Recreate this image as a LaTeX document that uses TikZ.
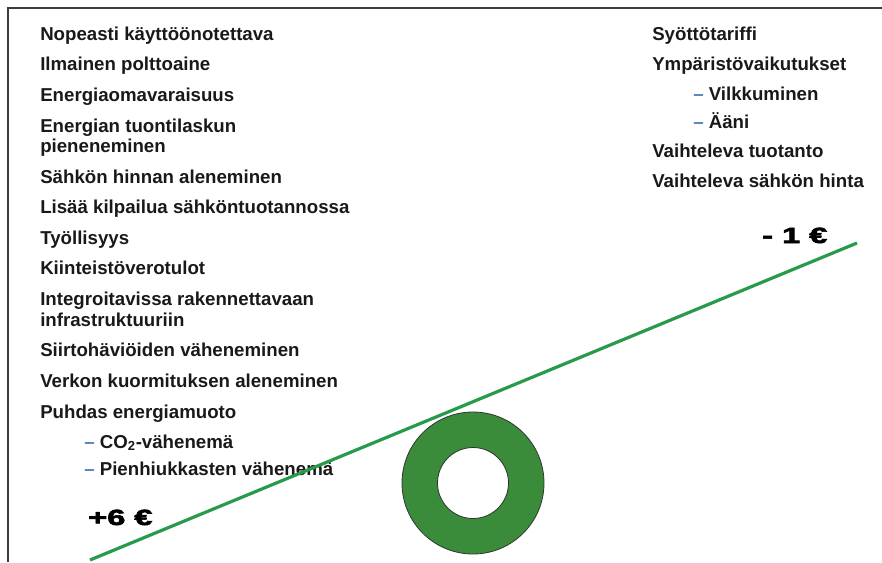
\documentclass[tikz,border=0pt]{standalone}
\usepackage{fontspec}
\setmainfont{Liberation Sans}
\newfontfamily\heavyfont{Liberation Sans}[BoldFeatures={FakeBold=2.5}]
\definecolor{txt}{RGB}{25,25,25}
\definecolor{bul}{RGB}{80,130,180}
\definecolor{lineg}{RGB}{40,155,75}
\definecolor{donutc}{RGB}{58,140,58}
\definecolor{framec}{RGB}{60,60,60}
\begin{document}
\begin{tikzpicture}[x=0.75pt,y=-0.75pt,
  item/.style={anchor=base west,inner sep=0pt,font=\fontsize{14}{14}\selectfont\bfseries,text=txt},
  money/.style={anchor=base west,inner sep=0pt,font=\heavyfont\fontsize{16.5}{16.5}\selectfont\bfseries,text=black}]
\useasboundingbox (0,0) rectangle (882,562);
\draw[framec,line width=1.8pt] (8,562) -- (8,8) -- (882,8);
% left column
\node[item] (n1)  at (40,40)  {Nopeasti käyttöönotettava};
\node[item] (n2)  at (40,70)  {Ilmainen polttoaine};
\node[item] (n3)  at (40,101) {Energiaomavaraisuus};
\node[item] (n4)  at (40,132) {Energian tuontilaskun};
\node[item] (n4b) at (40,152) {pieneneminen};
\node[item] (n5)  at (40,183) {Sähkön hinnan aleneminen};
\node[item] (n6)  at (40,213) {Lisää kilpailua sähköntuotannossa};
\node[item] (n7)  at (40,244) {Työllisyys};
\node[item] (n8)  at (40,274) {Kiinteistöverotulot};
\node[item] (n9)  at (40,305) {Integroitavissa rakennettavaan};
\node[item] (n9b) at (40,326) {infrastruktuuriin};
\node[item] (n10) at (40,356) {Siirtohäviöiden väheneminen};
\node[item] (n11) at (40,387) {Verkon kuormituksen aleneminen};
\node[item] (n12) at (40,418) {Puhdas energiamuoto};
\node[item] (n13) at (84,448) {\textcolor{bul}{–} CO\textsubscript{2}-vähenemä};
\node[item] (n14) at (84,475) {\textcolor{bul}{–} Pienhiukkasten vähenemä};
% right column
\node[item] (r1) at (652,40)  {Syöttötariffi};
\node[item] (r2) at (652,70)  {Ympäristövaikutukset};
\node[item] (r3) at (693,100) {\textcolor{bul}{–} Vilkkuminen};
\node[item] (r4) at (693,128) {\textcolor{bul}{–} Ääni};
\node[item] (r5) at (652,157) {Vaihteleva tuotanto};
\node[item] (r6) at (652,187) {Vaihteleva sähkön hinta};
% sums
\node[money] (plus)  at (88,525)  {\scalebox{1.48}[1]{+6 €}};
\node[money] (minus) at (762,243) {\scalebox{1.48}[1]{- 1 €}};
% fulcrum
\path[fill=donutc,draw=black!80,line width=0.6pt,even odd rule]
  (473,483) circle[radius=71] (473,483) circle[radius=35.5];
% beam
\coordinate (la) at (90,560);
\coordinate (lb) at (857,243);
\draw[lineg,line width=2.4pt] (la) -- (lb);
\end{tikzpicture}
\end{document}
